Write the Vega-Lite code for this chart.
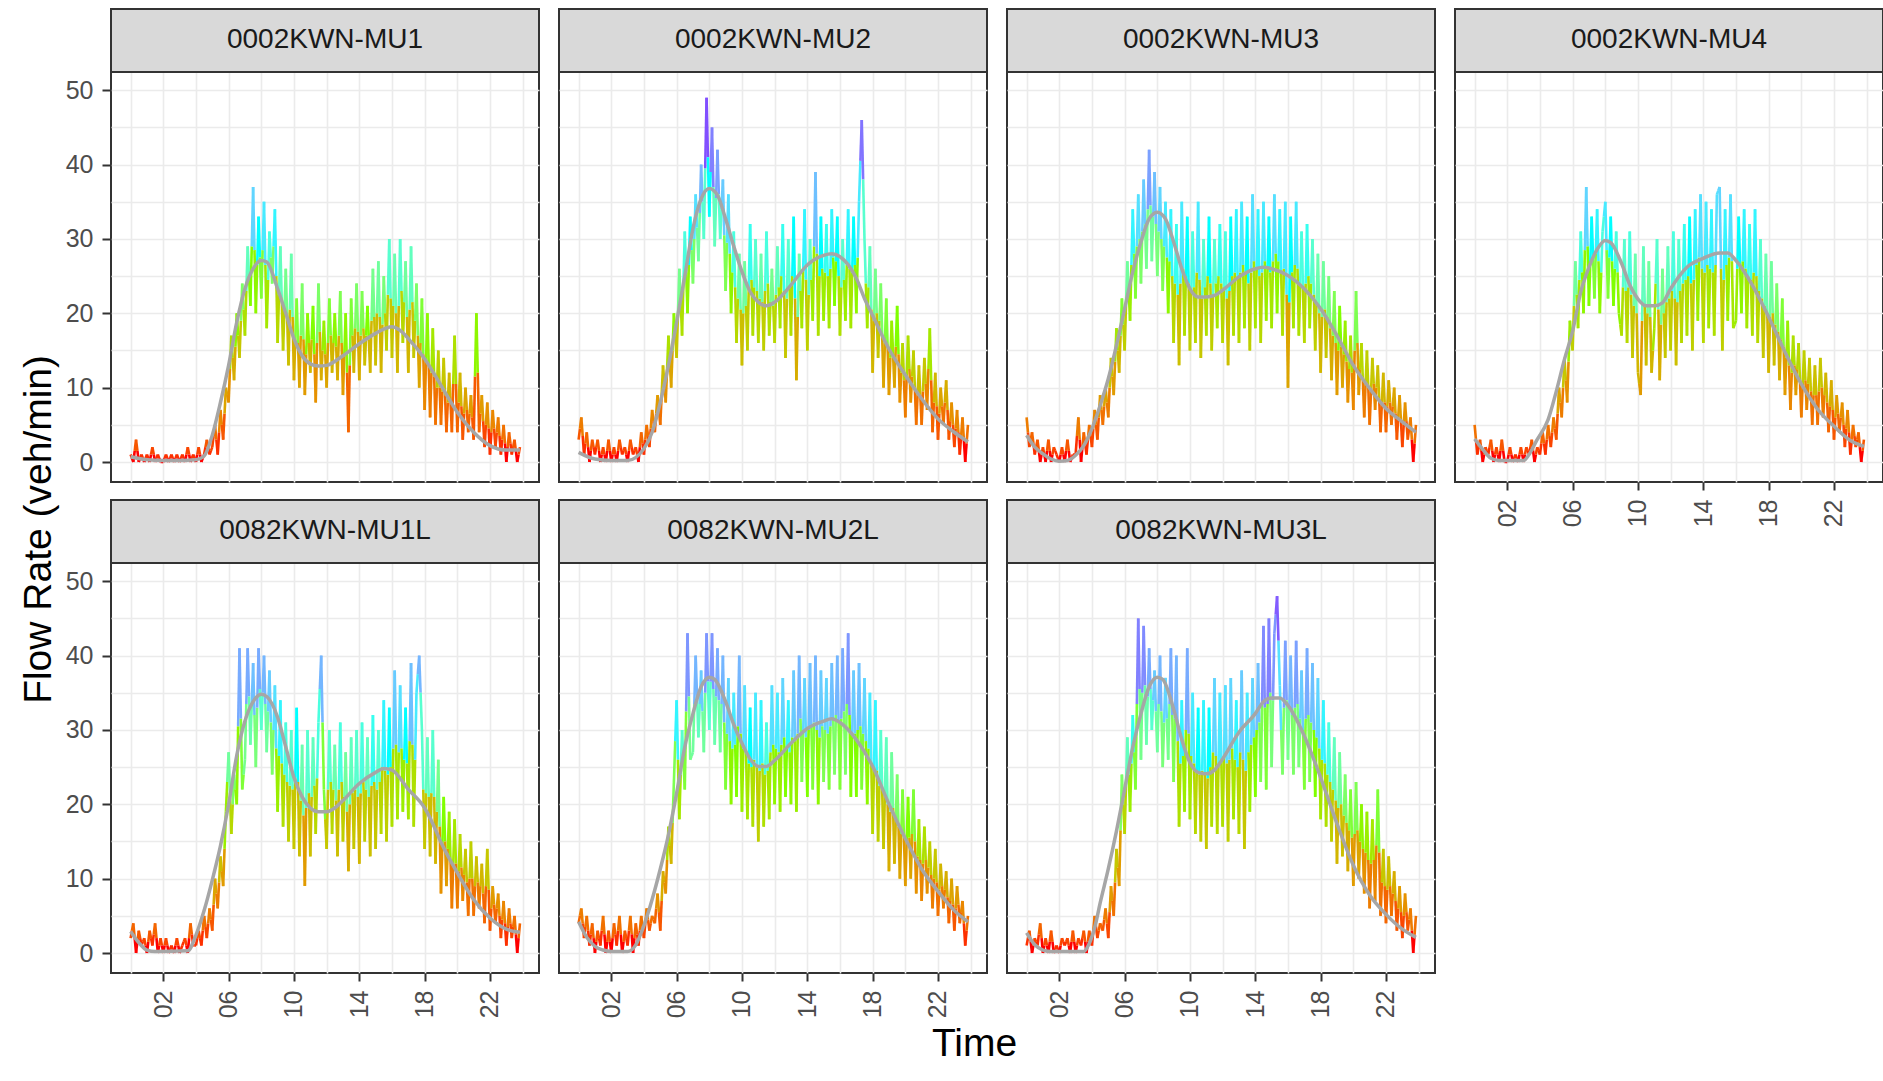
{
"$schema":"https://vega.github.io/schema/vega-lite/v6.json",
"background":"white",
"padding":{"left":20,"top":7,"right":1,"bottom":5},
"title":{"text":"Flow Rate (veh/min)","orient":"left","anchor":"middle","fontSize":39,"font":"Liberation Sans","fontWeight":"normal","color":"#000000","offset":5,"dx":6},
"datasets":{
"n":[{"c":"A","p":"0002KWN-MU1"},{"c":"B","p":"0002KWN-MU2"},{"c":"C","p":"0002KWN-MU3"},{"c":"D","p":"0002KWN-MU4"},{"c":"E","p":"0082KWN-MU1L"},{"c":"F","p":"0082KWN-MU2L"},{"c":"G","p":"0082KWN-MU3L"}],
"d":[
{"c":"A","m":0,"v":1},{"c":"A","m":10,"v":0},{"c":"A","m":20,"v":3},{"c":"A","m":30,"v":0},{"c":"A","m":40,"v":1},{"c":"A","m":50,"v":0},
{"c":"A","m":60,"v":1},{"c":"A","m":70,"v":0},{"c":"A","m":80,"v":2},{"c":"A","m":90,"v":0},{"c":"A","m":100,"v":1},{"c":"A","m":110,"v":0},
{"c":"A","m":120,"v":0},{"c":"A","m":130,"v":1},{"c":"A","m":140,"v":0},{"c":"A","m":150,"v":1},{"c":"A","m":160,"v":0},{"c":"A","m":170,"v":1},
{"c":"A","m":180,"v":0},{"c":"A","m":190,"v":1},{"c":"A","m":200,"v":0},{"c":"A","m":210,"v":2},{"c":"A","m":220,"v":0},{"c":"A","m":230,"v":1},
{"c":"A","m":240,"v":0},{"c":"A","m":250,"v":2},{"c":"A","m":260,"v":0},{"c":"A","m":270,"v":1},{"c":"A","m":280,"v":3},{"c":"A","m":290,"v":1},
{"c":"A","m":300,"v":2},{"c":"A","m":310,"v":5},{"c":"A","m":320,"v":1},{"c":"A","m":330,"v":7},{"c":"A","m":340,"v":3},{"c":"A","m":350,"v":10},
{"c":"A","m":360,"v":8},{"c":"A","m":370,"v":17},{"c":"A","m":380,"v":11},{"c":"A","m":390,"v":20},{"c":"A","m":400,"v":14},{"c":"A","m":410,"v":24},
{"c":"A","m":420,"v":17},{"c":"A","m":430,"v":29},{"c":"A","m":440,"v":21},{"c":"A","m":450,"v":37},{"c":"A","m":460,"v":20},{"c":"A","m":470,"v":33},
{"c":"A","m":480,"v":22},{"c":"A","m":490,"v":35},{"c":"A","m":500,"v":18},{"c":"A","m":510,"v":31},{"c":"A","m":520,"v":24},{"c":"A","m":530,"v":34},
{"c":"A","m":540,"v":16},{"c":"A","m":550,"v":29},{"c":"A","m":560,"v":15},{"c":"A","m":570,"v":26},{"c":"A","m":580,"v":13},{"c":"A","m":590,"v":28},
{"c":"A","m":600,"v":11},{"c":"A","m":610,"v":22},{"c":"A","m":620,"v":10},{"c":"A","m":630,"v":24},{"c":"A","m":640,"v":9},{"c":"A","m":650,"v":20},
{"c":"A","m":660,"v":12},{"c":"A","m":670,"v":21},{"c":"A","m":680,"v":8},{"c":"A","m":690,"v":24},{"c":"A","m":700,"v":11},{"c":"A","m":710,"v":19},
{"c":"A","m":720,"v":10},{"c":"A","m":730,"v":22},{"c":"A","m":740,"v":12},{"c":"A","m":750,"v":20},{"c":"A","m":760,"v":11},{"c":"A","m":770,"v":23},
{"c":"A","m":780,"v":9},{"c":"A","m":790,"v":20},{"c":"A","m":800,"v":4},{"c":"A","m":810,"v":22},{"c":"A","m":820,"v":12},{"c":"A","m":830,"v":24},
{"c":"A","m":840,"v":11},{"c":"A","m":850,"v":23},{"c":"A","m":860,"v":13},{"c":"A","m":870,"v":21},{"c":"A","m":880,"v":12},{"c":"A","m":890,"v":26},
{"c":"A","m":900,"v":13},{"c":"A","m":910,"v":27},{"c":"A","m":920,"v":12},{"c":"A","m":930,"v":25},{"c":"A","m":940,"v":15},{"c":"A","m":950,"v":30},
{"c":"A","m":960,"v":14},{"c":"A","m":970,"v":28},{"c":"A","m":980,"v":12},{"c":"A","m":990,"v":30},{"c":"A","m":1000,"v":16},{"c":"A","m":1010,"v":27},
{"c":"A","m":1020,"v":12},{"c":"A","m":1030,"v":29},{"c":"A","m":1040,"v":14},{"c":"A","m":1050,"v":24},{"c":"A","m":1060,"v":10},{"c":"A","m":1070,"v":22},
{"c":"A","m":1080,"v":7},{"c":"A","m":1090,"v":20},{"c":"A","m":1100,"v":6},{"c":"A","m":1110,"v":18},{"c":"A","m":1120,"v":5},{"c":"A","m":1130,"v":15},
{"c":"A","m":1140,"v":5},{"c":"A","m":1150,"v":14},{"c":"A","m":1160,"v":4},{"c":"A","m":1170,"v":12},{"c":"A","m":1180,"v":4},{"c":"A","m":1190,"v":17},
{"c":"A","m":1200,"v":4},{"c":"A","m":1210,"v":12},{"c":"A","m":1220,"v":3},{"c":"A","m":1230,"v":10},{"c":"A","m":1240,"v":4},{"c":"A","m":1250,"v":9},
{"c":"A","m":1260,"v":3},{"c":"A","m":1270,"v":20},{"c":"A","m":1280,"v":4},{"c":"A","m":1290,"v":9},{"c":"A","m":1300,"v":2},{"c":"A","m":1310,"v":8},
{"c":"A","m":1320,"v":1},{"c":"A","m":1330,"v":7},{"c":"A","m":1340,"v":2},{"c":"A","m":1350,"v":6},{"c":"A","m":1360,"v":1},{"c":"A","m":1370,"v":5},
{"c":"A","m":1380,"v":0},{"c":"A","m":1390,"v":4},{"c":"A","m":1400,"v":1},{"c":"A","m":1410,"v":3},{"c":"A","m":1420,"v":0},{"c":"A","m":1430,"v":2},
{"c":"B","m":0,"v":3},{"c":"B","m":10,"v":6},{"c":"B","m":20,"v":1},{"c":"B","m":30,"v":4},{"c":"B","m":40,"v":0},{"c":"B","m":50,"v":3},
{"c":"B","m":60,"v":1},{"c":"B","m":70,"v":3},{"c":"B","m":80,"v":0},{"c":"B","m":90,"v":2},{"c":"B","m":100,"v":0},{"c":"B","m":110,"v":3},
{"c":"B","m":120,"v":0},{"c":"B","m":130,"v":2},{"c":"B","m":140,"v":0},{"c":"B","m":150,"v":3},{"c":"B","m":160,"v":1},{"c":"B","m":170,"v":2},
{"c":"B","m":180,"v":0},{"c":"B","m":190,"v":3},{"c":"B","m":200,"v":1},{"c":"B","m":210,"v":2},{"c":"B","m":220,"v":0},{"c":"B","m":230,"v":4},
{"c":"B","m":240,"v":1},{"c":"B","m":250,"v":5},{"c":"B","m":260,"v":2},{"c":"B","m":270,"v":7},{"c":"B","m":280,"v":4},{"c":"B","m":290,"v":9},
{"c":"B","m":300,"v":5},{"c":"B","m":310,"v":13},{"c":"B","m":320,"v":8},{"c":"B","m":330,"v":17},{"c":"B","m":340,"v":10},{"c":"B","m":350,"v":20},
{"c":"B","m":360,"v":14},{"c":"B","m":370,"v":26},{"c":"B","m":380,"v":17},{"c":"B","m":390,"v":31},{"c":"B","m":400,"v":20},{"c":"B","m":410,"v":33},
{"c":"B","m":420,"v":24},{"c":"B","m":430,"v":36},{"c":"B","m":440,"v":27},{"c":"B","m":450,"v":40},{"c":"B","m":460,"v":30},{"c":"B","m":470,"v":49},
{"c":"B","m":480,"v":33},{"c":"B","m":490,"v":45},{"c":"B","m":500,"v":29},{"c":"B","m":510,"v":42},{"c":"B","m":520,"v":30},{"c":"B","m":530,"v":38},
{"c":"B","m":540,"v":23},{"c":"B","m":550,"v":36},{"c":"B","m":560,"v":20},{"c":"B","m":570,"v":31},{"c":"B","m":580,"v":16},{"c":"B","m":590,"v":28},
{"c":"B","m":600,"v":13},{"c":"B","m":610,"v":27},{"c":"B","m":620,"v":15},{"c":"B","m":630,"v":32},{"c":"B","m":640,"v":17},{"c":"B","m":650,"v":30},
{"c":"B","m":660,"v":16},{"c":"B","m":670,"v":28},{"c":"B","m":680,"v":15},{"c":"B","m":690,"v":31},{"c":"B","m":700,"v":17},{"c":"B","m":710,"v":26},
{"c":"B","m":720,"v":16},{"c":"B","m":730,"v":29},{"c":"B","m":740,"v":18},{"c":"B","m":750,"v":32},{"c":"B","m":760,"v":14},{"c":"B","m":770,"v":30},
{"c":"B","m":780,"v":17},{"c":"B","m":790,"v":33},{"c":"B","m":800,"v":11},{"c":"B","m":810,"v":28},{"c":"B","m":820,"v":18},{"c":"B","m":830,"v":34},
{"c":"B","m":840,"v":15},{"c":"B","m":850,"v":30},{"c":"B","m":860,"v":19},{"c":"B","m":870,"v":39},{"c":"B","m":880,"v":17},{"c":"B","m":890,"v":33},
{"c":"B","m":900,"v":19},{"c":"B","m":910,"v":32},{"c":"B","m":920,"v":18},{"c":"B","m":930,"v":34},{"c":"B","m":940,"v":21},{"c":"B","m":950,"v":33},
{"c":"B","m":960,"v":17},{"c":"B","m":970,"v":30},{"c":"B","m":980,"v":19},{"c":"B","m":990,"v":34},{"c":"B","m":1000,"v":18},{"c":"B","m":1010,"v":33},
{"c":"B","m":1020,"v":20},{"c":"B","m":1030,"v":35},{"c":"B","m":1040,"v":46},{"c":"B","m":1050,"v":30},{"c":"B","m":1060,"v":18},{"c":"B","m":1070,"v":29},
{"c":"B","m":1080,"v":12},{"c":"B","m":1090,"v":26},{"c":"B","m":1100,"v":14},{"c":"B","m":1110,"v":24},{"c":"B","m":1120,"v":10},{"c":"B","m":1130,"v":22},
{"c":"B","m":1140,"v":9},{"c":"B","m":1150,"v":19},{"c":"B","m":1160,"v":10},{"c":"B","m":1170,"v":21},{"c":"B","m":1180,"v":8},{"c":"B","m":1190,"v":16},
{"c":"B","m":1200,"v":6},{"c":"B","m":1210,"v":17},{"c":"B","m":1220,"v":8},{"c":"B","m":1230,"v":15},{"c":"B","m":1240,"v":5},{"c":"B","m":1250,"v":13},
{"c":"B","m":1260,"v":5},{"c":"B","m":1270,"v":14},{"c":"B","m":1280,"v":7},{"c":"B","m":1290,"v":18},{"c":"B","m":1300,"v":4},{"c":"B","m":1310,"v":12},
{"c":"B","m":1320,"v":3},{"c":"B","m":1330,"v":10},{"c":"B","m":1340,"v":5},{"c":"B","m":1350,"v":11},{"c":"B","m":1360,"v":3},{"c":"B","m":1370,"v":8},
{"c":"B","m":1380,"v":2},{"c":"B","m":1390,"v":7},{"c":"B","m":1400,"v":1},{"c":"B","m":1410,"v":6},{"c":"B","m":1420,"v":0},{"c":"B","m":1430,"v":5},
{"c":"C","m":0,"v":6},{"c":"C","m":10,"v":2},{"c":"C","m":20,"v":4},{"c":"C","m":30,"v":1},{"c":"C","m":40,"v":3},{"c":"C","m":50,"v":0},
{"c":"C","m":60,"v":2},{"c":"C","m":70,"v":0},{"c":"C","m":80,"v":3},{"c":"C","m":90,"v":0},{"c":"C","m":100,"v":2},{"c":"C","m":110,"v":1},
{"c":"C","m":120,"v":0},{"c":"C","m":130,"v":2},{"c":"C","m":140,"v":0},{"c":"C","m":150,"v":3},{"c":"C","m":160,"v":0},{"c":"C","m":170,"v":1},
{"c":"C","m":180,"v":1},{"c":"C","m":190,"v":6},{"c":"C","m":200,"v":0},{"c":"C","m":210,"v":4},{"c":"C","m":220,"v":1},{"c":"C","m":230,"v":5},
{"c":"C","m":240,"v":2},{"c":"C","m":250,"v":7},{"c":"C","m":260,"v":3},{"c":"C","m":270,"v":9},{"c":"C","m":280,"v":5},{"c":"C","m":290,"v":10},
{"c":"C","m":300,"v":6},{"c":"C","m":310,"v":14},{"c":"C","m":320,"v":9},{"c":"C","m":330,"v":18},{"c":"C","m":340,"v":12},{"c":"C","m":350,"v":22},
{"c":"C","m":360,"v":15},{"c":"C","m":370,"v":27},{"c":"C","m":380,"v":19},{"c":"C","m":390,"v":34},{"c":"C","m":400,"v":22},{"c":"C","m":410,"v":36},
{"c":"C","m":420,"v":24},{"c":"C","m":430,"v":38},{"c":"C","m":440,"v":26},{"c":"C","m":450,"v":42},{"c":"C","m":460,"v":27},{"c":"C","m":470,"v":39},
{"c":"C","m":480,"v":25},{"c":"C","m":490,"v":37},{"c":"C","m":500,"v":23},{"c":"C","m":510,"v":35},{"c":"C","m":520,"v":20},{"c":"C","m":530,"v":34},
{"c":"C","m":540,"v":16},{"c":"C","m":550,"v":32},{"c":"C","m":560,"v":13},{"c":"C","m":570,"v":35},{"c":"C","m":580,"v":17},{"c":"C","m":590,"v":33},
{"c":"C","m":600,"v":15},{"c":"C","m":610,"v":31},{"c":"C","m":620,"v":16},{"c":"C","m":630,"v":35},{"c":"C","m":640,"v":14},{"c":"C","m":650,"v":30},
{"c":"C","m":660,"v":17},{"c":"C","m":670,"v":33},{"c":"C","m":680,"v":15},{"c":"C","m":690,"v":30},{"c":"C","m":700,"v":18},{"c":"C","m":710,"v":32},
{"c":"C","m":720,"v":16},{"c":"C","m":730,"v":31},{"c":"C","m":740,"v":13},{"c":"C","m":750,"v":33},{"c":"C","m":760,"v":17},{"c":"C","m":770,"v":34},
{"c":"C","m":780,"v":16},{"c":"C","m":790,"v":35},{"c":"C","m":800,"v":18},{"c":"C","m":810,"v":33},{"c":"C","m":820,"v":15},{"c":"C","m":830,"v":36},
{"c":"C","m":840,"v":18},{"c":"C","m":850,"v":34},{"c":"C","m":860,"v":16},{"c":"C","m":870,"v":35},{"c":"C","m":880,"v":19},{"c":"C","m":890,"v":33},
{"c":"C","m":900,"v":18},{"c":"C","m":910,"v":36},{"c":"C","m":920,"v":20},{"c":"C","m":930,"v":34},{"c":"C","m":940,"v":17},{"c":"C","m":950,"v":35},
{"c":"C","m":960,"v":10},{"c":"C","m":970,"v":33},{"c":"C","m":980,"v":18},{"c":"C","m":990,"v":35},{"c":"C","m":1000,"v":17},{"c":"C","m":1010,"v":31},
{"c":"C","m":1020,"v":16},{"c":"C","m":1030,"v":32},{"c":"C","m":1040,"v":18},{"c":"C","m":1050,"v":30},{"c":"C","m":1060,"v":15},{"c":"C","m":1070,"v":28},
{"c":"C","m":1080,"v":12},{"c":"C","m":1090,"v":27},{"c":"C","m":1100,"v":14},{"c":"C","m":1110,"v":25},{"c":"C","m":1120,"v":11},{"c":"C","m":1130,"v":23},
{"c":"C","m":1140,"v":9},{"c":"C","m":1150,"v":21},{"c":"C","m":1160,"v":10},{"c":"C","m":1170,"v":19},{"c":"C","m":1180,"v":8},{"c":"C","m":1190,"v":17},
{"c":"C","m":1200,"v":7},{"c":"C","m":1210,"v":23},{"c":"C","m":1220,"v":9},{"c":"C","m":1230,"v":16},{"c":"C","m":1240,"v":6},{"c":"C","m":1250,"v":15},
{"c":"C","m":1260,"v":5},{"c":"C","m":1270,"v":14},{"c":"C","m":1280,"v":7},{"c":"C","m":1290,"v":13},{"c":"C","m":1300,"v":4},{"c":"C","m":1310,"v":12},
{"c":"C","m":1320,"v":4},{"c":"C","m":1330,"v":11},{"c":"C","m":1340,"v":5},{"c":"C","m":1350,"v":10},{"c":"C","m":1360,"v":3},{"c":"C","m":1370,"v":9},
{"c":"C","m":1380,"v":2},{"c":"C","m":1390,"v":8},{"c":"C","m":1400,"v":3},{"c":"C","m":1410,"v":6},{"c":"C","m":1420,"v":0},{"c":"C","m":1430,"v":5},
{"c":"D","m":0,"v":5},{"c":"D","m":10,"v":1},{"c":"D","m":20,"v":3},{"c":"D","m":30,"v":0},{"c":"D","m":40,"v":2},{"c":"D","m":50,"v":1},
{"c":"D","m":60,"v":3},{"c":"D","m":70,"v":0},{"c":"D","m":80,"v":2},{"c":"D","m":90,"v":0},{"c":"D","m":100,"v":3},{"c":"D","m":110,"v":0},
{"c":"D","m":120,"v":0},{"c":"D","m":130,"v":2},{"c":"D","m":140,"v":0},{"c":"D","m":150,"v":1},{"c":"D","m":160,"v":0},{"c":"D","m":170,"v":2},
{"c":"D","m":180,"v":0},{"c":"D","m":190,"v":2},{"c":"D","m":200,"v":1},{"c":"D","m":210,"v":3},{"c":"D","m":220,"v":0},{"c":"D","m":230,"v":2},
{"c":"D","m":240,"v":1},{"c":"D","m":250,"v":4},{"c":"D","m":260,"v":1},{"c":"D","m":270,"v":5},{"c":"D","m":280,"v":2},{"c":"D","m":290,"v":6},
{"c":"D","m":300,"v":3},{"c":"D","m":310,"v":10},{"c":"D","m":320,"v":6},{"c":"D","m":330,"v":14},{"c":"D","m":340,"v":8},{"c":"D","m":350,"v":19},
{"c":"D","m":360,"v":15},{"c":"D","m":370,"v":27},{"c":"D","m":380,"v":18},{"c":"D","m":390,"v":31},{"c":"D","m":400,"v":20},{"c":"D","m":410,"v":37},
{"c":"D","m":420,"v":21},{"c":"D","m":430,"v":33},{"c":"D","m":440,"v":22},{"c":"D","m":450,"v":34},{"c":"D","m":460,"v":20},{"c":"D","m":470,"v":31},
{"c":"D","m":480,"v":35},{"c":"D","m":490,"v":22},{"c":"D","m":500,"v":33},{"c":"D","m":510,"v":21},{"c":"D","m":520,"v":31},{"c":"D","m":530,"v":20},
{"c":"D","m":540,"v":17},{"c":"D","m":550,"v":30},{"c":"D","m":560,"v":16},{"c":"D","m":570,"v":31},{"c":"D","m":580,"v":14},{"c":"D","m":590,"v":28},
{"c":"D","m":600,"v":12},{"c":"D","m":610,"v":9},{"c":"D","m":620,"v":29},{"c":"D","m":630,"v":13},{"c":"D","m":640,"v":27},{"c":"D","m":650,"v":12},
{"c":"D","m":660,"v":18},{"c":"D","m":670,"v":30},{"c":"D","m":680,"v":11},{"c":"D","m":690,"v":26},{"c":"D","m":700,"v":14},{"c":"D","m":710,"v":29},
{"c":"D","m":720,"v":15},{"c":"D","m":730,"v":31},{"c":"D","m":740,"v":13},{"c":"D","m":750,"v":30},{"c":"D","m":760,"v":16},{"c":"D","m":770,"v":32},
{"c":"D","m":780,"v":17},{"c":"D","m":790,"v":33},{"c":"D","m":800,"v":15},{"c":"D","m":810,"v":34},{"c":"D","m":820,"v":19},{"c":"D","m":830,"v":36},
{"c":"D","m":840,"v":16},{"c":"D","m":850,"v":35},{"c":"D","m":860,"v":18},{"c":"D","m":870,"v":34},{"c":"D","m":880,"v":17},{"c":"D","m":890,"v":36},
{"c":"D","m":900,"v":37},{"c":"D","m":910,"v":15},{"c":"D","m":920,"v":34},{"c":"D","m":930,"v":19},{"c":"D","m":940,"v":36},{"c":"D","m":950,"v":18},
{"c":"D","m":960,"v":19},{"c":"D","m":970,"v":33},{"c":"D","m":980,"v":20},{"c":"D","m":990,"v":34},{"c":"D","m":1000,"v":18},{"c":"D","m":1010,"v":32},
{"c":"D","m":1020,"v":17},{"c":"D","m":1030,"v":34},{"c":"D","m":1040,"v":16},{"c":"D","m":1050,"v":30},{"c":"D","m":1060,"v":14},{"c":"D","m":1070,"v":28},
{"c":"D","m":1080,"v":12},{"c":"D","m":1090,"v":27},{"c":"D","m":1100,"v":13},{"c":"D","m":1110,"v":24},{"c":"D","m":1120,"v":11},{"c":"D","m":1130,"v":22},
{"c":"D","m":1140,"v":9},{"c":"D","m":1150,"v":19},{"c":"D","m":1160,"v":7},{"c":"D","m":1170,"v":17},{"c":"D","m":1180,"v":9},{"c":"D","m":1190,"v":16},
{"c":"D","m":1200,"v":6},{"c":"D","m":1210,"v":15},{"c":"D","m":1220,"v":7},{"c":"D","m":1230,"v":14},{"c":"D","m":1240,"v":5},{"c":"D","m":1250,"v":13},
{"c":"D","m":1260,"v":5},{"c":"D","m":1270,"v":14},{"c":"D","m":1280,"v":6},{"c":"D","m":1290,"v":12},{"c":"D","m":1300,"v":4},{"c":"D","m":1310,"v":11},
{"c":"D","m":1320,"v":3},{"c":"D","m":1330,"v":9},{"c":"D","m":1340,"v":4},{"c":"D","m":1350,"v":8},{"c":"D","m":1360,"v":2},{"c":"D","m":1370,"v":7},
{"c":"D","m":1380,"v":1},{"c":"D","m":1390,"v":5},{"c":"D","m":1400,"v":2},{"c":"D","m":1410,"v":4},{"c":"D","m":1420,"v":0},{"c":"D","m":1430,"v":3},
{"c":"E","m":0,"v":2},{"c":"E","m":10,"v":4},{"c":"E","m":20,"v":0},{"c":"E","m":30,"v":3},{"c":"E","m":40,"v":1},{"c":"E","m":50,"v":2},
{"c":"E","m":60,"v":0},{"c":"E","m":70,"v":3},{"c":"E","m":80,"v":1},{"c":"E","m":90,"v":4},{"c":"E","m":100,"v":0},{"c":"E","m":110,"v":2},
{"c":"E","m":120,"v":0},{"c":"E","m":130,"v":2},{"c":"E","m":140,"v":0},{"c":"E","m":150,"v":1},{"c":"E","m":160,"v":0},{"c":"E","m":170,"v":2},
{"c":"E","m":180,"v":0},{"c":"E","m":190,"v":1},{"c":"E","m":200,"v":2},{"c":"E","m":210,"v":0},{"c":"E","m":220,"v":4},{"c":"E","m":230,"v":1},
{"c":"E","m":240,"v":1},{"c":"E","m":250,"v":3},{"c":"E","m":260,"v":1},{"c":"E","m":270,"v":5},{"c":"E","m":280,"v":2},{"c":"E","m":290,"v":6},
{"c":"E","m":300,"v":3},{"c":"E","m":310,"v":10},{"c":"E","m":320,"v":6},{"c":"E","m":330,"v":13},{"c":"E","m":340,"v":9},{"c":"E","m":350,"v":19},
{"c":"E","m":360,"v":27},{"c":"E","m":370,"v":16},{"c":"E","m":380,"v":24},{"c":"E","m":390,"v":20},{"c":"E","m":400,"v":41},{"c":"E","m":410,"v":22},
{"c":"E","m":420,"v":26},{"c":"E","m":430,"v":41},{"c":"E","m":440,"v":28},{"c":"E","m":450,"v":39},{"c":"E","m":460,"v":25},{"c":"E","m":470,"v":41},
{"c":"E","m":480,"v":30},{"c":"E","m":490,"v":40},{"c":"E","m":500,"v":27},{"c":"E","m":510,"v":38},{"c":"E","m":520,"v":24},{"c":"E","m":530,"v":36},
{"c":"E","m":540,"v":19},{"c":"E","m":550,"v":34},{"c":"E","m":560,"v":17},{"c":"E","m":570,"v":31},{"c":"E","m":580,"v":15},{"c":"E","m":590,"v":30},
{"c":"E","m":600,"v":14},{"c":"E","m":610,"v":33},{"c":"E","m":620,"v":13},{"c":"E","m":630,"v":28},{"c":"E","m":640,"v":9},{"c":"E","m":650,"v":30},
{"c":"E","m":660,"v":13},{"c":"E","m":670,"v":29},{"c":"E","m":680,"v":16},{"c":"E","m":690,"v":31},{"c":"E","m":700,"v":40},{"c":"E","m":710,"v":22},
{"c":"E","m":720,"v":14},{"c":"E","m":730,"v":30},{"c":"E","m":740,"v":16},{"c":"E","m":750,"v":28},{"c":"E","m":760,"v":13},{"c":"E","m":770,"v":31},
{"c":"E","m":780,"v":15},{"c":"E","m":790,"v":27},{"c":"E","m":800,"v":11},{"c":"E","m":810,"v":29},{"c":"E","m":820,"v":14},{"c":"E","m":830,"v":30},
{"c":"E","m":840,"v":12},{"c":"E","m":850,"v":31},{"c":"E","m":860,"v":15},{"c":"E","m":870,"v":29},{"c":"E","m":880,"v":13},{"c":"E","m":890,"v":32},
{"c":"E","m":900,"v":14},{"c":"E","m":910,"v":30},{"c":"E","m":920,"v":16},{"c":"E","m":930,"v":34},{"c":"E","m":940,"v":15},{"c":"E","m":950,"v":33},
{"c":"E","m":960,"v":17},{"c":"E","m":970,"v":38},{"c":"E","m":980,"v":18},{"c":"E","m":990,"v":36},{"c":"E","m":1000,"v":19},{"c":"E","m":1010,"v":33},
{"c":"E","m":1020,"v":18},{"c":"E","m":1030,"v":39},{"c":"E","m":1040,"v":17},{"c":"E","m":1050,"v":35},{"c":"E","m":1060,"v":40},{"c":"E","m":1070,"v":30},
{"c":"E","m":1080,"v":14},{"c":"E","m":1090,"v":29},{"c":"E","m":1100,"v":13},{"c":"E","m":1110,"v":30},{"c":"E","m":1120,"v":12},{"c":"E","m":1130,"v":26},
{"c":"E","m":1140,"v":8},{"c":"E","m":1150,"v":21},{"c":"E","m":1160,"v":9},{"c":"E","m":1170,"v":19},{"c":"E","m":1180,"v":6},{"c":"E","m":1190,"v":18},
{"c":"E","m":1200,"v":6},{"c":"E","m":1210,"v":16},{"c":"E","m":1220,"v":7},{"c":"E","m":1230,"v":14},{"c":"E","m":1240,"v":5},{"c":"E","m":1250,"v":15},
{"c":"E","m":1260,"v":5},{"c":"E","m":1270,"v":13},{"c":"E","m":1280,"v":6},{"c":"E","m":1290,"v":12},{"c":"E","m":1300,"v":4},{"c":"E","m":1310,"v":14},
{"c":"E","m":1320,"v":3},{"c":"E","m":1330,"v":9},{"c":"E","m":1340,"v":4},{"c":"E","m":1350,"v":8},{"c":"E","m":1360,"v":2},{"c":"E","m":1370,"v":7},
{"c":"E","m":1380,"v":1},{"c":"E","m":1390,"v":6},{"c":"E","m":1400,"v":2},{"c":"E","m":1410,"v":5},{"c":"E","m":1420,"v":0},{"c":"E","m":1430,"v":4},
{"c":"F","m":0,"v":4},{"c":"F","m":10,"v":6},{"c":"F","m":20,"v":2},{"c":"F","m":30,"v":5},{"c":"F","m":40,"v":1},{"c":"F","m":50,"v":4},
{"c":"F","m":60,"v":0},{"c":"F","m":70,"v":3},{"c":"F","m":80,"v":1},{"c":"F","m":90,"v":5},{"c":"F","m":100,"v":0},{"c":"F","m":110,"v":3},
{"c":"F","m":120,"v":0},{"c":"F","m":130,"v":4},{"c":"F","m":140,"v":1},{"c":"F","m":150,"v":5},{"c":"F","m":160,"v":0},{"c":"F","m":170,"v":3},
{"c":"F","m":180,"v":1},{"c":"F","m":190,"v":5},{"c":"F","m":200,"v":0},{"c":"F","m":210,"v":4},{"c":"F","m":220,"v":1},{"c":"F","m":230,"v":5},
{"c":"F","m":240,"v":2},{"c":"F","m":250,"v":6},{"c":"F","m":260,"v":3},{"c":"F","m":270,"v":5},{"c":"F","m":280,"v":4},{"c":"F","m":290,"v":8},
{"c":"F","m":300,"v":3},{"c":"F","m":310,"v":11},{"c":"F","m":320,"v":8},{"c":"F","m":330,"v":17},{"c":"F","m":340,"v":12},{"c":"F","m":350,"v":23},
{"c":"F","m":360,"v":34},{"c":"F","m":370,"v":18},{"c":"F","m":380,"v":30},{"c":"F","m":390,"v":22},{"c":"F","m":400,"v":43},{"c":"F","m":410,"v":26},
{"c":"F","m":420,"v":27},{"c":"F","m":430,"v":40},{"c":"F","m":440,"v":29},{"c":"F","m":450,"v":38},{"c":"F","m":460,"v":27},{"c":"F","m":470,"v":43},
{"c":"F","m":480,"v":30},{"c":"F","m":490,"v":43},{"c":"F","m":500,"v":28},{"c":"F","m":510,"v":41},{"c":"F","m":520,"v":27},{"c":"F","m":530,"v":40},
{"c":"F","m":540,"v":22},{"c":"F","m":550,"v":37},{"c":"F","m":560,"v":20},{"c":"F","m":570,"v":35},{"c":"F","m":580,"v":21},{"c":"F","m":590,"v":40},
{"c":"F","m":600,"v":19},{"c":"F","m":610,"v":36},{"c":"F","m":620,"v":18},{"c":"F","m":630,"v":33},{"c":"F","m":640,"v":17},{"c":"F","m":650,"v":35},
{"c":"F","m":660,"v":15},{"c":"F","m":670,"v":34},{"c":"F","m":680,"v":17},{"c":"F","m":690,"v":31},{"c":"F","m":700,"v":18},{"c":"F","m":710,"v":36},
{"c":"F","m":720,"v":20},{"c":"F","m":730,"v":35},{"c":"F","m":740,"v":19},{"c":"F","m":750,"v":37},{"c":"F","m":760,"v":21},{"c":"F","m":770,"v":34},
{"c":"F","m":780,"v":20},{"c":"F","m":790,"v":38},{"c":"F","m":800,"v":19},{"c":"F","m":810,"v":40},{"c":"F","m":820,"v":23},{"c":"F","m":830,"v":37},
{"c":"F","m":840,"v":21},{"c":"F","m":850,"v":39},{"c":"F","m":860,"v":22},{"c":"F","m":870,"v":40},{"c":"F","m":880,"v":20},{"c":"F","m":890,"v":38},
{"c":"F","m":900,"v":23},{"c":"F","m":910,"v":37},{"c":"F","m":920,"v":22},{"c":"F","m":930,"v":39},{"c":"F","m":940,"v":24},{"c":"F","m":950,"v":40},
{"c":"F","m":960,"v":22},{"c":"F","m":970,"v":41},{"c":"F","m":980,"v":24},{"c":"F","m":990,"v":43},{"c":"F","m":1000,"v":21},{"c":"F","m":1010,"v":38},
{"c":"F","m":1020,"v":21},{"c":"F","m":1030,"v":39},{"c":"F","m":1040,"v":22},{"c":"F","m":1050,"v":37},{"c":"F","m":1060,"v":20},{"c":"F","m":1070,"v":35},
{"c":"F","m":1080,"v":16},{"c":"F","m":1090,"v":34},{"c":"F","m":1100,"v":15},{"c":"F","m":1110,"v":30},{"c":"F","m":1120,"v":14},{"c":"F","m":1130,"v":29},
{"c":"F","m":1140,"v":11},{"c":"F","m":1150,"v":27},{"c":"F","m":1160,"v":12},{"c":"F","m":1170,"v":24},{"c":"F","m":1180,"v":10},{"c":"F","m":1190,"v":22},
{"c":"F","m":1200,"v":9},{"c":"F","m":1210,"v":21},{"c":"F","m":1220,"v":10},{"c":"F","m":1230,"v":22},{"c":"F","m":1240,"v":8},{"c":"F","m":1250,"v":18},
{"c":"F","m":1260,"v":7},{"c":"F","m":1270,"v":17},{"c":"F","m":1280,"v":8},{"c":"F","m":1290,"v":15},{"c":"F","m":1300,"v":6},{"c":"F","m":1310,"v":14},
{"c":"F","m":1320,"v":5},{"c":"F","m":1330,"v":12},{"c":"F","m":1340,"v":6},{"c":"F","m":1350,"v":11},{"c":"F","m":1360,"v":4},{"c":"F","m":1370,"v":10},
{"c":"F","m":1380,"v":3},{"c":"F","m":1390,"v":9},{"c":"F","m":1400,"v":4},{"c":"F","m":1410,"v":7},{"c":"F","m":1420,"v":1},{"c":"F","m":1430,"v":5},
{"c":"G","m":0,"v":1},{"c":"G","m":10,"v":3},{"c":"G","m":20,"v":0},{"c":"G","m":30,"v":2},{"c":"G","m":40,"v":1},{"c":"G","m":50,"v":4},
{"c":"G","m":60,"v":0},{"c":"G","m":70,"v":2},{"c":"G","m":80,"v":0},{"c":"G","m":90,"v":3},{"c":"G","m":100,"v":0},{"c":"G","m":110,"v":1},
{"c":"G","m":120,"v":0},{"c":"G","m":130,"v":2},{"c":"G","m":140,"v":1},{"c":"G","m":150,"v":2},{"c":"G","m":160,"v":0},{"c":"G","m":170,"v":3},
{"c":"G","m":180,"v":0},{"c":"G","m":190,"v":2},{"c":"G","m":200,"v":1},{"c":"G","m":210,"v":3},{"c":"G","m":220,"v":0},{"c":"G","m":230,"v":3},
{"c":"G","m":240,"v":1},{"c":"G","m":250,"v":5},{"c":"G","m":260,"v":2},{"c":"G","m":270,"v":4},{"c":"G","m":280,"v":3},{"c":"G","m":290,"v":6},
{"c":"G","m":300,"v":2},{"c":"G","m":310,"v":9},{"c":"G","m":320,"v":5},{"c":"G","m":330,"v":14},{"c":"G","m":340,"v":9},{"c":"G","m":350,"v":24},
{"c":"G","m":360,"v":16},{"c":"G","m":370,"v":29},{"c":"G","m":380,"v":19},{"c":"G","m":390,"v":32},{"c":"G","m":400,"v":22},{"c":"G","m":410,"v":45},
{"c":"G","m":420,"v":26},{"c":"G","m":430,"v":44},{"c":"G","m":440,"v":28},{"c":"G","m":450,"v":41},{"c":"G","m":460,"v":30},{"c":"G","m":470,"v":38},
{"c":"G","m":480,"v":27},{"c":"G","m":490,"v":40},{"c":"G","m":500,"v":25},{"c":"G","m":510,"v":37},{"c":"G","m":520,"v":26},{"c":"G","m":530,"v":41},
{"c":"G","m":540,"v":23},{"c":"G","m":550,"v":40},{"c":"G","m":560,"v":17},{"c":"G","m":570,"v":34},{"c":"G","m":580,"v":19},{"c":"G","m":590,"v":41},
{"c":"G","m":600,"v":18},{"c":"G","m":610,"v":35},{"c":"G","m":620,"v":16},{"c":"G","m":630,"v":33},{"c":"G","m":640,"v":15},{"c":"G","m":650,"v":34},
{"c":"G","m":660,"v":14},{"c":"G","m":670,"v":33},{"c":"G","m":680,"v":17},{"c":"G","m":690,"v":37},{"c":"G","m":700,"v":16},{"c":"G","m":710,"v":35},
{"c":"G","m":720,"v":17},{"c":"G","m":730,"v":36},{"c":"G","m":740,"v":15},{"c":"G","m":750,"v":37},{"c":"G","m":760,"v":18},{"c":"G","m":770,"v":34},
{"c":"G","m":780,"v":16},{"c":"G","m":790,"v":38},{"c":"G","m":800,"v":14},{"c":"G","m":810,"v":35},{"c":"G","m":820,"v":19},{"c":"G","m":830,"v":37},
{"c":"G","m":840,"v":21},{"c":"G","m":850,"v":39},{"c":"G","m":860,"v":23},{"c":"G","m":870,"v":44},{"c":"G","m":880,"v":22},{"c":"G","m":890,"v":45},
{"c":"G","m":900,"v":25},{"c":"G","m":910,"v":43},{"c":"G","m":920,"v":48},{"c":"G","m":930,"v":36},{"c":"G","m":940,"v":24},{"c":"G","m":950,"v":42},
{"c":"G","m":960,"v":26},{"c":"G","m":970,"v":40},{"c":"G","m":980,"v":24},{"c":"G","m":990,"v":42},{"c":"G","m":1000,"v":25},{"c":"G","m":1010,"v":38},
{"c":"G","m":1020,"v":22},{"c":"G","m":1030,"v":41},{"c":"G","m":1040,"v":23},{"c":"G","m":1050,"v":39},{"c":"G","m":1060,"v":21},{"c":"G","m":1070,"v":37},
{"c":"G","m":1080,"v":18},{"c":"G","m":1090,"v":34},{"c":"G","m":1100,"v":17},{"c":"G","m":1110,"v":31},{"c":"G","m":1120,"v":15},{"c":"G","m":1130,"v":29},
{"c":"G","m":1140,"v":12},{"c":"G","m":1150,"v":27},{"c":"G","m":1160,"v":13},{"c":"G","m":1170,"v":24},{"c":"G","m":1180,"v":11},{"c":"G","m":1190,"v":22},
{"c":"G","m":1200,"v":9},{"c":"G","m":1210,"v":23},{"c":"G","m":1220,"v":10},{"c":"G","m":1230,"v":20},{"c":"G","m":1240,"v":8},{"c":"G","m":1250,"v":19},
{"c":"G","m":1260,"v":6},{"c":"G","m":1270,"v":18},{"c":"G","m":1280,"v":7},{"c":"G","m":1290,"v":22},{"c":"G","m":1300,"v":5},{"c":"G","m":1310,"v":14},
{"c":"G","m":1320,"v":4},{"c":"G","m":1330,"v":13},{"c":"G","m":1340,"v":5},{"c":"G","m":1350,"v":11},{"c":"G","m":1360,"v":3},{"c":"G","m":1370,"v":9},
{"c":"G","m":1380,"v":2},{"c":"G","m":1390,"v":8},{"c":"G","m":1400,"v":3},{"c":"G","m":1410,"v":6},{"c":"G","m":1420,"v":0},{"c":"G","m":1430,"v":5},
{"c":"A","m":0,"s":0.7},{"c":"A","m":60,"s":0.3},{"c":"A","m":120,"s":0.2},{"c":"A","m":180,"s":0.2},{"c":"A","m":240,"s":0.3},{"c":"A","m":270,"s":0.8},{"c":"A","m":300,"s":3.6},{"c":"A","m":330,"s":8},{"c":"A","m":360,"s":13},{"c":"A","m":390,"s":18.8},{"c":"A","m":420,"s":23.3},{"c":"A","m":450,"s":26},{"c":"A","m":480,"s":27.1},{"c":"A","m":500,"s":26.9},{"c":"A","m":540,"s":23.3},{"c":"A","m":570,"s":20},{"c":"A","m":600,"s":16.6},{"c":"A","m":630,"s":14.3},{"c":"A","m":660,"s":13.2},{"c":"A","m":690,"s":12.9},{"c":"A","m":720,"s":13},{"c":"A","m":780,"s":14.3},{"c":"A","m":840,"s":15.9},{"c":"A","m":900,"s":17.3},{"c":"A","m":960,"s":18.2},{"c":"A","m":990,"s":17.7},{"c":"A","m":1020,"s":16.6},{"c":"A","m":1080,"s":13.9},{"c":"A","m":1140,"s":10.3},{"c":"A","m":1200,"s":6.7},{"c":"A","m":1260,"s":4},{"c":"A","m":1320,"s":2.2},{"c":"A","m":1380,"s":1.6},{"c":"A","m":1430,"s":1.6},
{"c":"B","m":0,"s":1.3},{"c":"B","m":60,"s":0.4},{"c":"B","m":120,"s":0.2},{"c":"B","m":180,"s":0.2},{"c":"B","m":240,"s":1.8},{"c":"B","m":270,"s":4},{"c":"B","m":300,"s":8},{"c":"B","m":330,"s":13},{"c":"B","m":360,"s":18.8},{"c":"B","m":390,"s":25},{"c":"B","m":420,"s":31.4},{"c":"B","m":450,"s":35.4},{"c":"B","m":480,"s":36.8},{"c":"B","m":510,"s":35.9},{"c":"B","m":540,"s":32.7},{"c":"B","m":570,"s":29},{"c":"B","m":600,"s":25.6},{"c":"B","m":630,"s":22.9},{"c":"B","m":660,"s":21.5},{"c":"B","m":690,"s":21},{"c":"B","m":720,"s":21.5},{"c":"B","m":780,"s":23.8},{"c":"B","m":840,"s":26.5},{"c":"B","m":900,"s":27.8},{"c":"B","m":930,"s":28},{"c":"B","m":960,"s":27.6},{"c":"B","m":1020,"s":24.7},{"c":"B","m":1050,"s":22},{"c":"B","m":1080,"s":19.7},{"c":"B","m":1140,"s":15.2},{"c":"B","m":1200,"s":11.7},{"c":"B","m":1260,"s":8.5},{"c":"B","m":1320,"s":5.8},{"c":"B","m":1380,"s":4},{"c":"B","m":1430,"s":2.7},
{"c":"C","m":0,"s":3.6},{"c":"C","m":30,"s":2},{"c":"C","m":60,"s":1.1},{"c":"C","m":90,"s":0.4},{"c":"C","m":120,"s":0.1},{"c":"C","m":150,"s":0.2},{"c":"C","m":180,"s":0.9},{"c":"C","m":210,"s":2.2},{"c":"C","m":240,"s":4.5},{"c":"C","m":270,"s":7.6},{"c":"C","m":300,"s":11.2},{"c":"C","m":330,"s":15.7},{"c":"C","m":360,"s":20.6},{"c":"C","m":390,"s":25.6},{"c":"C","m":420,"s":29.6},{"c":"C","m":450,"s":32.7},{"c":"C","m":480,"s":33.6},{"c":"C","m":510,"s":32.7},{"c":"C","m":540,"s":29.6},{"c":"C","m":570,"s":26},{"c":"C","m":600,"s":23.3},{"c":"C","m":630,"s":22.2},{"c":"C","m":660,"s":22.2},{"c":"C","m":690,"s":22.4},{"c":"C","m":720,"s":23.1},{"c":"C","m":780,"s":24.9},{"c":"C","m":840,"s":26},{"c":"C","m":870,"s":26.2},{"c":"C","m":900,"s":26},{"c":"C","m":960,"s":25.1},{"c":"C","m":1020,"s":23.3},{"c":"C","m":1080,"s":20.6},{"c":"C","m":1140,"s":17},{"c":"C","m":1200,"s":13},{"c":"C","m":1260,"s":9.9},{"c":"C","m":1320,"s":7.2},{"c":"C","m":1380,"s":5.4},{"c":"C","m":1430,"s":4},
{"c":"D","m":0,"s":3.1},{"c":"D","m":30,"s":1.7},{"c":"D","m":60,"s":0.5},{"c":"D","m":90,"s":0.2},{"c":"D","m":180,"s":0.2},{"c":"D","m":200,"s":1},{"c":"D","m":228,"s":2.9},{"c":"D","m":270,"s":5.7},{"c":"D","m":300,"s":9.5},{"c":"D","m":330,"s":13.8},{"c":"D","m":360,"s":17.6},{"c":"D","m":390,"s":22.9},{"c":"D","m":420,"s":26.2},{"c":"D","m":450,"s":28.6},{"c":"D","m":480,"s":29.8},{"c":"D","m":500,"s":29.5},{"c":"D","m":540,"s":26.7},{"c":"D","m":570,"s":23.8},{"c":"D","m":600,"s":21.9},{"c":"D","m":630,"s":21},{"c":"D","m":660,"s":21},{"c":"D","m":690,"s":21.4},{"c":"D","m":720,"s":23.3},{"c":"D","m":780,"s":26.2},{"c":"D","m":840,"s":27.4},{"c":"D","m":900,"s":28.1},{"c":"D","m":930,"s":28.1},{"c":"D","m":960,"s":27.1},{"c":"D","m":1020,"s":23.8},{"c":"D","m":1080,"s":19.5},{"c":"D","m":1140,"s":14.8},{"c":"D","m":1200,"s":10.5},{"c":"D","m":1260,"s":7.1},{"c":"D","m":1320,"s":4.8},{"c":"D","m":1380,"s":2.9},{"c":"D","m":1430,"s":2.1},
{"c":"E","m":0,"s":2.9},{"c":"E","m":30,"s":1.4},{"c":"E","m":60,"s":0.4},{"c":"E","m":90,"s":0.2},{"c":"E","m":210,"s":0.3},{"c":"E","m":240,"s":2.4},{"c":"E","m":270,"s":5.7},{"c":"E","m":300,"s":9.8},{"c":"E","m":330,"s":14.4},{"c":"E","m":360,"s":20},{"c":"E","m":390,"s":26.6},{"c":"E","m":420,"s":31.2},{"c":"E","m":450,"s":33.8},{"c":"E","m":480,"s":34.8},{"c":"E","m":500,"s":34.5},{"c":"E","m":540,"s":31.7},{"c":"E","m":570,"s":27.7},{"c":"E","m":600,"s":23.6},{"c":"E","m":630,"s":21},{"c":"E","m":660,"s":19.5},{"c":"E","m":690,"s":19},{"c":"E","m":720,"s":19},{"c":"E","m":750,"s":19.5},{"c":"E","m":780,"s":20.5},{"c":"E","m":840,"s":22.8},{"c":"E","m":900,"s":24.3},{"c":"E","m":930,"s":24.8},{"c":"E","m":960,"s":24.6},{"c":"E","m":1020,"s":22},{"c":"E","m":1080,"s":19.5},{"c":"E","m":1110,"s":17.4},{"c":"E","m":1140,"s":14.9},{"c":"E","m":1200,"s":10.8},{"c":"E","m":1260,"s":7.2},{"c":"E","m":1320,"s":4.7},{"c":"E","m":1380,"s":3.2},{"c":"E","m":1430,"s":2.8},
{"c":"F","m":0,"s":4.2},{"c":"F","m":30,"s":2.1},{"c":"F","m":60,"s":0.9},{"c":"F","m":90,"s":0.4},{"c":"F","m":120,"s":0.2},{"c":"F","m":180,"s":0.2},{"c":"F","m":210,"s":1.1},{"c":"F","m":240,"s":3.7},{"c":"F","m":270,"s":7.2},{"c":"F","m":300,"s":11.3},{"c":"F","m":330,"s":15.9},{"c":"F","m":360,"s":21.5},{"c":"F","m":390,"s":27.7},{"c":"F","m":420,"s":32.2},{"c":"F","m":450,"s":35.8},{"c":"F","m":480,"s":37.1},{"c":"F","m":500,"s":36.8},{"c":"F","m":540,"s":33.8},{"c":"F","m":570,"s":30.7},{"c":"F","m":600,"s":28.2},{"c":"F","m":630,"s":26.1},{"c":"F","m":660,"s":25.1},{"c":"F","m":690,"s":25.1},{"c":"F","m":720,"s":25.9},{"c":"F","m":780,"s":28.2},{"c":"F","m":840,"s":30.2},{"c":"F","m":900,"s":31.2},{"c":"F","m":930,"s":31.5},{"c":"F","m":960,"s":31},{"c":"F","m":1020,"s":28.7},{"c":"F","m":1080,"s":25.1},{"c":"F","m":1140,"s":20},{"c":"F","m":1200,"s":15.4},{"c":"F","m":1260,"s":11.3},{"c":"F","m":1320,"s":8.3},{"c":"F","m":1380,"s":5.7},{"c":"F","m":1430,"s":4.2},
{"c":"G","m":0,"s":2.7},{"c":"G","m":30,"s":1.1},{"c":"G","m":60,"s":0.4},{"c":"G","m":90,"s":0.2},{"c":"G","m":210,"s":0.2},{"c":"G","m":228,"s":1.1},{"c":"G","m":252,"s":3.7},{"c":"G","m":270,"s":6.7},{"c":"G","m":300,"s":11.3},{"c":"G","m":330,"s":16.4},{"c":"G","m":360,"s":22},{"c":"G","m":390,"s":27.7},{"c":"G","m":420,"s":32.2},{"c":"G","m":450,"s":35.8},{"c":"G","m":480,"s":37.1},{"c":"G","m":500,"s":36.8},{"c":"G","m":540,"s":32.8},{"c":"G","m":570,"s":28.7},{"c":"G","m":600,"s":25.6},{"c":"G","m":630,"s":24.3},{"c":"G","m":660,"s":24.1},{"c":"G","m":690,"s":24.6},{"c":"G","m":720,"s":26.1},{"c":"G","m":780,"s":29.7},{"c":"G","m":840,"s":32.2},{"c":"G","m":870,"s":33.8},{"c":"G","m":900,"s":34.3},{"c":"G","m":930,"s":34.3},{"c":"G","m":960,"s":33.3},{"c":"G","m":1020,"s":29.2},{"c":"G","m":1080,"s":23.6},{"c":"G","m":1140,"s":17.4},{"c":"G","m":1200,"s":11.8},{"c":"G","m":1260,"s":7.8},{"c":"G","m":1320,"s":5.2},{"c":"G","m":1380,"s":3.2},{"c":"G","m":1430,"s":2.1}
]},
"data":{"name":"d"},
"vconcat":[{
"title":{"text":"Time","orient":"bottom","anchor":"middle","fontSize":39,"font":"Liberation Sans","fontWeight":"normal","color":"#000000","offset":6},
"bounds":"flush",
"columns":4,
"spacing":{"row":18,"column":20},
"concat":[
{"width":428,"height":473,"transform":[{"filter":"datum.c=='A'"}],"resolve":{"axis":{"x":"independent","y":"independent"}},"layer":[
{"transform":[{"filter":"isValid(datum.v)"},{"window":[{"op":"lead","field":"v","as":"v2"},{"op":"lead","field":"m","as":"m2"},{"op":"mean","field":"v","as":"vm"},{"op":"mean","field":"m","as":"mm"}],"frame":[0,1],"sort":[{"field":"m"}]},{"filter":"isValid(datum.m2)"}],"mark":{"type":"rule","strokeWidth":2.6,"strokeCap":"butt"},"encoding":{"x":{"field":"m","type":"quantitative","scale":{"domain":[-72,1500],"nice":false,"zero":false},"axis":{"title":null,"values":[0,120,240,360,480,600,720,840,960,1080,1200,1320,1440],"labels":false,"ticks":false}},"x2":{"field":"mm"},"y":{"field":"v","type":"quantitative","scale":{"domain":[-2.69,60.93],"nice":false,"zero":false},"axis":{"title":null,"values":[0,5,10,15,20,25,30,35,40,45,50],"labelExpr":"datum.value%10==0 ? datum.label : ''","tickOpacity":{"condition":{"test":"datum.value%10==0","value":1},"value":0}}},"y2":{"field":"vm"},"color":{"field":"v","type":"quantitative","scale":{"domain":[0,21,33,50],"range":["#FF0000","#80FF00","#00FFFF","#8040FF"],"interpolate":"lab"},"legend":null}}},
{"transform":[{"filter":"isValid(datum.v)"},{"window":[{"op":"lead","field":"v","as":"v2"},{"op":"lead","field":"m","as":"m2"},{"op":"mean","field":"v","as":"vm"},{"op":"mean","field":"m","as":"mm"}],"frame":[0,1],"sort":[{"field":"m"}]},{"filter":"isValid(datum.m2)"}],"mark":{"type":"rule","strokeWidth":2.6,"strokeCap":"butt"},"encoding":{"x":{"field":"mm","type":"quantitative","axis":null},"x2":{"field":"m2"},"y":{"field":"vm","type":"quantitative","axis":null},"y2":{"field":"v2"},"color":{"field":"v2","type":"quantitative","legend":null}}},
{"transform":[{"filter":"isValid(datum.s)"}],"mark":{"type":"line","color":"#A6A6A6","strokeWidth":3.5,"interpolate":"monotone"},"encoding":{"x":{"field":"m","type":"quantitative","axis":null},"y":{"field":"s","type":"quantitative","axis":null}}},
{"transform":[{"filter":"isValid(datum.s)"},{"aggregate":[{"op":"count","as":"k"}],"groupby":["c"]},{"lookup":"c","from":{"data":{"name":"n"},"key":"c","fields":["p"]}}],"mark":{"type":"rect","fill":"#D9D9D9","stroke":"#333333","strokeWidth":2},"encoding":{"x":{"value":0},"x2":{"value":"width"},"y":{"datum":52.46,"axis":null},"y2":{"datum":60.93}}},
{"transform":[{"filter":"isValid(datum.s)"},{"aggregate":[{"op":"count","as":"k"}],"groupby":["c"]},{"lookup":"c","from":{"data":{"name":"n"},"key":"c","fields":["p"]}}],"mark":{"type":"text","font":"Liberation Sans","fontSize":28,"color":"#1A1A1A","align":"center","baseline":"middle","dx":-214},"encoding":{"x":{"value":"width"},"y":{"datum":56.7,"axis":null},"text":{"field":"p"}}}
]},
{"width":428,"height":473,"transform":[{"filter":"datum.c=='B'"}],"resolve":{"axis":{"x":"independent","y":"independent"}},"layer":[
{"transform":[{"filter":"isValid(datum.v)"},{"window":[{"op":"lead","field":"v","as":"v2"},{"op":"lead","field":"m","as":"m2"},{"op":"mean","field":"v","as":"vm"},{"op":"mean","field":"m","as":"mm"}],"frame":[0,1],"sort":[{"field":"m"}]},{"filter":"isValid(datum.m2)"}],"mark":{"type":"rule","strokeWidth":2.6,"strokeCap":"butt"},"encoding":{"x":{"field":"m","type":"quantitative","scale":{"domain":[-72,1500],"nice":false,"zero":false},"axis":{"title":null,"values":[0,120,240,360,480,600,720,840,960,1080,1200,1320,1440],"labels":false,"ticks":false}},"x2":{"field":"mm"},"y":{"field":"v","type":"quantitative","scale":{"domain":[-2.69,60.93],"nice":false,"zero":false},"axis":{"title":null,"values":[0,5,10,15,20,25,30,35,40,45,50],"labels":false,"ticks":false}},"y2":{"field":"vm"},"color":{"field":"v","type":"quantitative","scale":{"domain":[0,21,33,50],"range":["#FF0000","#80FF00","#00FFFF","#8040FF"],"interpolate":"lab"},"legend":null}}},
{"transform":[{"filter":"isValid(datum.v)"},{"window":[{"op":"lead","field":"v","as":"v2"},{"op":"lead","field":"m","as":"m2"},{"op":"mean","field":"v","as":"vm"},{"op":"mean","field":"m","as":"mm"}],"frame":[0,1],"sort":[{"field":"m"}]},{"filter":"isValid(datum.m2)"}],"mark":{"type":"rule","strokeWidth":2.6,"strokeCap":"butt"},"encoding":{"x":{"field":"mm","type":"quantitative","axis":null},"x2":{"field":"m2"},"y":{"field":"vm","type":"quantitative","axis":null},"y2":{"field":"v2"},"color":{"field":"v2","type":"quantitative","legend":null}}},
{"transform":[{"filter":"isValid(datum.s)"}],"mark":{"type":"line","color":"#A6A6A6","strokeWidth":3.5,"interpolate":"monotone"},"encoding":{"x":{"field":"m","type":"quantitative","axis":null},"y":{"field":"s","type":"quantitative","axis":null}}},
{"transform":[{"filter":"isValid(datum.s)"},{"aggregate":[{"op":"count","as":"k"}],"groupby":["c"]},{"lookup":"c","from":{"data":{"name":"n"},"key":"c","fields":["p"]}}],"mark":{"type":"rect","fill":"#D9D9D9","stroke":"#333333","strokeWidth":2},"encoding":{"x":{"value":0},"x2":{"value":"width"},"y":{"datum":52.46,"axis":null},"y2":{"datum":60.93}}},
{"transform":[{"filter":"isValid(datum.s)"},{"aggregate":[{"op":"count","as":"k"}],"groupby":["c"]},{"lookup":"c","from":{"data":{"name":"n"},"key":"c","fields":["p"]}}],"mark":{"type":"text","font":"Liberation Sans","fontSize":28,"color":"#1A1A1A","align":"center","baseline":"middle","dx":-214},"encoding":{"x":{"value":"width"},"y":{"datum":56.7,"axis":null},"text":{"field":"p"}}}
]},
{"width":428,"height":473,"transform":[{"filter":"datum.c=='C'"}],"resolve":{"axis":{"x":"independent","y":"independent"}},"layer":[
{"transform":[{"filter":"isValid(datum.v)"},{"window":[{"op":"lead","field":"v","as":"v2"},{"op":"lead","field":"m","as":"m2"},{"op":"mean","field":"v","as":"vm"},{"op":"mean","field":"m","as":"mm"}],"frame":[0,1],"sort":[{"field":"m"}]},{"filter":"isValid(datum.m2)"}],"mark":{"type":"rule","strokeWidth":2.6,"strokeCap":"butt"},"encoding":{"x":{"field":"m","type":"quantitative","scale":{"domain":[-72,1500],"nice":false,"zero":false},"axis":{"title":null,"values":[0,120,240,360,480,600,720,840,960,1080,1200,1320,1440],"labels":false,"ticks":false}},"x2":{"field":"mm"},"y":{"field":"v","type":"quantitative","scale":{"domain":[-2.69,60.93],"nice":false,"zero":false},"axis":{"title":null,"values":[0,5,10,15,20,25,30,35,40,45,50],"labels":false,"ticks":false}},"y2":{"field":"vm"},"color":{"field":"v","type":"quantitative","scale":{"domain":[0,21,33,50],"range":["#FF0000","#80FF00","#00FFFF","#8040FF"],"interpolate":"lab"},"legend":null}}},
{"transform":[{"filter":"isValid(datum.v)"},{"window":[{"op":"lead","field":"v","as":"v2"},{"op":"lead","field":"m","as":"m2"},{"op":"mean","field":"v","as":"vm"},{"op":"mean","field":"m","as":"mm"}],"frame":[0,1],"sort":[{"field":"m"}]},{"filter":"isValid(datum.m2)"}],"mark":{"type":"rule","strokeWidth":2.6,"strokeCap":"butt"},"encoding":{"x":{"field":"mm","type":"quantitative","axis":null},"x2":{"field":"m2"},"y":{"field":"vm","type":"quantitative","axis":null},"y2":{"field":"v2"},"color":{"field":"v2","type":"quantitative","legend":null}}},
{"transform":[{"filter":"isValid(datum.s)"}],"mark":{"type":"line","color":"#A6A6A6","strokeWidth":3.5,"interpolate":"monotone"},"encoding":{"x":{"field":"m","type":"quantitative","axis":null},"y":{"field":"s","type":"quantitative","axis":null}}},
{"transform":[{"filter":"isValid(datum.s)"},{"aggregate":[{"op":"count","as":"k"}],"groupby":["c"]},{"lookup":"c","from":{"data":{"name":"n"},"key":"c","fields":["p"]}}],"mark":{"type":"rect","fill":"#D9D9D9","stroke":"#333333","strokeWidth":2},"encoding":{"x":{"value":0},"x2":{"value":"width"},"y":{"datum":52.46,"axis":null},"y2":{"datum":60.93}}},
{"transform":[{"filter":"isValid(datum.s)"},{"aggregate":[{"op":"count","as":"k"}],"groupby":["c"]},{"lookup":"c","from":{"data":{"name":"n"},"key":"c","fields":["p"]}}],"mark":{"type":"text","font":"Liberation Sans","fontSize":28,"color":"#1A1A1A","align":"center","baseline":"middle","dx":-214},"encoding":{"x":{"value":"width"},"y":{"datum":56.7,"axis":null},"text":{"field":"p"}}}
]},
{"width":428,"height":473,"transform":[{"filter":"datum.c=='D'"}],"resolve":{"axis":{"x":"independent","y":"independent"}},"layer":[
{"transform":[{"filter":"isValid(datum.v)"},{"window":[{"op":"lead","field":"v","as":"v2"},{"op":"lead","field":"m","as":"m2"},{"op":"mean","field":"v","as":"vm"},{"op":"mean","field":"m","as":"mm"}],"frame":[0,1],"sort":[{"field":"m"}]},{"filter":"isValid(datum.m2)"}],"mark":{"type":"rule","strokeWidth":2.6,"strokeCap":"butt"},"encoding":{"x":{"field":"m","type":"quantitative","scale":{"domain":[-72,1500],"nice":false,"zero":false},"axis":{"title":null,"values":[0,120,240,360,480,600,720,840,960,1080,1200,1320,1440],"labelAngle":270,"labelOverlap":false,"labelExpr":"(datum.value/120)%2==1 ? (datum.value<600 ? '0'+(datum.value/60) : ''+(datum.value/60)) : ''","tickOpacity":{"condition":{"test":"(datum.value/120)%2==1","value":1},"value":0}}},"x2":{"field":"mm"},"y":{"field":"v","type":"quantitative","scale":{"domain":[-2.69,60.93],"nice":false,"zero":false},"axis":{"title":null,"values":[0,5,10,15,20,25,30,35,40,45,50],"labels":false,"ticks":false}},"y2":{"field":"vm"},"color":{"field":"v","type":"quantitative","scale":{"domain":[0,21,33,50],"range":["#FF0000","#80FF00","#00FFFF","#8040FF"],"interpolate":"lab"},"legend":null}}},
{"transform":[{"filter":"isValid(datum.v)"},{"window":[{"op":"lead","field":"v","as":"v2"},{"op":"lead","field":"m","as":"m2"},{"op":"mean","field":"v","as":"vm"},{"op":"mean","field":"m","as":"mm"}],"frame":[0,1],"sort":[{"field":"m"}]},{"filter":"isValid(datum.m2)"}],"mark":{"type":"rule","strokeWidth":2.6,"strokeCap":"butt"},"encoding":{"x":{"field":"mm","type":"quantitative","axis":null},"x2":{"field":"m2"},"y":{"field":"vm","type":"quantitative","axis":null},"y2":{"field":"v2"},"color":{"field":"v2","type":"quantitative","legend":null}}},
{"transform":[{"filter":"isValid(datum.s)"}],"mark":{"type":"line","color":"#A6A6A6","strokeWidth":3.5,"interpolate":"monotone"},"encoding":{"x":{"field":"m","type":"quantitative","axis":null},"y":{"field":"s","type":"quantitative","axis":null}}},
{"transform":[{"filter":"isValid(datum.s)"},{"aggregate":[{"op":"count","as":"k"}],"groupby":["c"]},{"lookup":"c","from":{"data":{"name":"n"},"key":"c","fields":["p"]}}],"mark":{"type":"rect","fill":"#D9D9D9","stroke":"#333333","strokeWidth":2},"encoding":{"x":{"value":0},"x2":{"value":"width"},"y":{"datum":52.46,"axis":null},"y2":{"datum":60.93}}},
{"transform":[{"filter":"isValid(datum.s)"},{"aggregate":[{"op":"count","as":"k"}],"groupby":["c"]},{"lookup":"c","from":{"data":{"name":"n"},"key":"c","fields":["p"]}}],"mark":{"type":"text","font":"Liberation Sans","fontSize":28,"color":"#1A1A1A","align":"center","baseline":"middle","dx":-214},"encoding":{"x":{"value":"width"},"y":{"datum":56.7,"axis":null},"text":{"field":"p"}}}
]},
{"width":428,"height":473,"transform":[{"filter":"datum.c=='E'"}],"resolve":{"axis":{"x":"independent","y":"independent"}},"layer":[
{"transform":[{"filter":"isValid(datum.v)"},{"window":[{"op":"lead","field":"v","as":"v2"},{"op":"lead","field":"m","as":"m2"},{"op":"mean","field":"v","as":"vm"},{"op":"mean","field":"m","as":"mm"}],"frame":[0,1],"sort":[{"field":"m"}]},{"filter":"isValid(datum.m2)"}],"mark":{"type":"rule","strokeWidth":2.6,"strokeCap":"butt"},"encoding":{"x":{"field":"m","type":"quantitative","scale":{"domain":[-72,1500],"nice":false,"zero":false},"axis":{"title":null,"values":[0,120,240,360,480,600,720,840,960,1080,1200,1320,1440],"labelAngle":270,"labelOverlap":false,"labelExpr":"(datum.value/120)%2==1 ? (datum.value<600 ? '0'+(datum.value/60) : ''+(datum.value/60)) : ''","tickOpacity":{"condition":{"test":"(datum.value/120)%2==1","value":1},"value":0}}},"x2":{"field":"mm"},"y":{"field":"v","type":"quantitative","scale":{"domain":[-2.69,60.93],"nice":false,"zero":false},"axis":{"title":null,"values":[0,5,10,15,20,25,30,35,40,45,50],"labelExpr":"datum.value%10==0 ? datum.label : ''","tickOpacity":{"condition":{"test":"datum.value%10==0","value":1},"value":0}}},"y2":{"field":"vm"},"color":{"field":"v","type":"quantitative","scale":{"domain":[0,21,33,50],"range":["#FF0000","#80FF00","#00FFFF","#8040FF"],"interpolate":"lab"},"legend":null}}},
{"transform":[{"filter":"isValid(datum.v)"},{"window":[{"op":"lead","field":"v","as":"v2"},{"op":"lead","field":"m","as":"m2"},{"op":"mean","field":"v","as":"vm"},{"op":"mean","field":"m","as":"mm"}],"frame":[0,1],"sort":[{"field":"m"}]},{"filter":"isValid(datum.m2)"}],"mark":{"type":"rule","strokeWidth":2.6,"strokeCap":"butt"},"encoding":{"x":{"field":"mm","type":"quantitative","axis":null},"x2":{"field":"m2"},"y":{"field":"vm","type":"quantitative","axis":null},"y2":{"field":"v2"},"color":{"field":"v2","type":"quantitative","legend":null}}},
{"transform":[{"filter":"isValid(datum.s)"}],"mark":{"type":"line","color":"#A6A6A6","strokeWidth":3.5,"interpolate":"monotone"},"encoding":{"x":{"field":"m","type":"quantitative","axis":null},"y":{"field":"s","type":"quantitative","axis":null}}},
{"transform":[{"filter":"isValid(datum.s)"},{"aggregate":[{"op":"count","as":"k"}],"groupby":["c"]},{"lookup":"c","from":{"data":{"name":"n"},"key":"c","fields":["p"]}}],"mark":{"type":"rect","fill":"#D9D9D9","stroke":"#333333","strokeWidth":2},"encoding":{"x":{"value":0},"x2":{"value":"width"},"y":{"datum":52.46,"axis":null},"y2":{"datum":60.93}}},
{"transform":[{"filter":"isValid(datum.s)"},{"aggregate":[{"op":"count","as":"k"}],"groupby":["c"]},{"lookup":"c","from":{"data":{"name":"n"},"key":"c","fields":["p"]}}],"mark":{"type":"text","font":"Liberation Sans","fontSize":28,"color":"#1A1A1A","align":"center","baseline":"middle","dx":-214},"encoding":{"x":{"value":"width"},"y":{"datum":56.7,"axis":null},"text":{"field":"p"}}}
]},
{"width":428,"height":473,"transform":[{"filter":"datum.c=='F'"}],"resolve":{"axis":{"x":"independent","y":"independent"}},"layer":[
{"transform":[{"filter":"isValid(datum.v)"},{"window":[{"op":"lead","field":"v","as":"v2"},{"op":"lead","field":"m","as":"m2"},{"op":"mean","field":"v","as":"vm"},{"op":"mean","field":"m","as":"mm"}],"frame":[0,1],"sort":[{"field":"m"}]},{"filter":"isValid(datum.m2)"}],"mark":{"type":"rule","strokeWidth":2.6,"strokeCap":"butt"},"encoding":{"x":{"field":"m","type":"quantitative","scale":{"domain":[-72,1500],"nice":false,"zero":false},"axis":{"title":null,"values":[0,120,240,360,480,600,720,840,960,1080,1200,1320,1440],"labelAngle":270,"labelOverlap":false,"labelExpr":"(datum.value/120)%2==1 ? (datum.value<600 ? '0'+(datum.value/60) : ''+(datum.value/60)) : ''","tickOpacity":{"condition":{"test":"(datum.value/120)%2==1","value":1},"value":0}}},"x2":{"field":"mm"},"y":{"field":"v","type":"quantitative","scale":{"domain":[-2.69,60.93],"nice":false,"zero":false},"axis":{"title":null,"values":[0,5,10,15,20,25,30,35,40,45,50],"labels":false,"ticks":false}},"y2":{"field":"vm"},"color":{"field":"v","type":"quantitative","scale":{"domain":[0,21,33,50],"range":["#FF0000","#80FF00","#00FFFF","#8040FF"],"interpolate":"lab"},"legend":null}}},
{"transform":[{"filter":"isValid(datum.v)"},{"window":[{"op":"lead","field":"v","as":"v2"},{"op":"lead","field":"m","as":"m2"},{"op":"mean","field":"v","as":"vm"},{"op":"mean","field":"m","as":"mm"}],"frame":[0,1],"sort":[{"field":"m"}]},{"filter":"isValid(datum.m2)"}],"mark":{"type":"rule","strokeWidth":2.6,"strokeCap":"butt"},"encoding":{"x":{"field":"mm","type":"quantitative","axis":null},"x2":{"field":"m2"},"y":{"field":"vm","type":"quantitative","axis":null},"y2":{"field":"v2"},"color":{"field":"v2","type":"quantitative","legend":null}}},
{"transform":[{"filter":"isValid(datum.s)"}],"mark":{"type":"line","color":"#A6A6A6","strokeWidth":3.5,"interpolate":"monotone"},"encoding":{"x":{"field":"m","type":"quantitative","axis":null},"y":{"field":"s","type":"quantitative","axis":null}}},
{"transform":[{"filter":"isValid(datum.s)"},{"aggregate":[{"op":"count","as":"k"}],"groupby":["c"]},{"lookup":"c","from":{"data":{"name":"n"},"key":"c","fields":["p"]}}],"mark":{"type":"rect","fill":"#D9D9D9","stroke":"#333333","strokeWidth":2},"encoding":{"x":{"value":0},"x2":{"value":"width"},"y":{"datum":52.46,"axis":null},"y2":{"datum":60.93}}},
{"transform":[{"filter":"isValid(datum.s)"},{"aggregate":[{"op":"count","as":"k"}],"groupby":["c"]},{"lookup":"c","from":{"data":{"name":"n"},"key":"c","fields":["p"]}}],"mark":{"type":"text","font":"Liberation Sans","fontSize":28,"color":"#1A1A1A","align":"center","baseline":"middle","dx":-214},"encoding":{"x":{"value":"width"},"y":{"datum":56.7,"axis":null},"text":{"field":"p"}}}
]},
{"width":428,"height":473,"transform":[{"filter":"datum.c=='G'"}],"resolve":{"axis":{"x":"independent","y":"independent"}},"layer":[
{"transform":[{"filter":"isValid(datum.v)"},{"window":[{"op":"lead","field":"v","as":"v2"},{"op":"lead","field":"m","as":"m2"},{"op":"mean","field":"v","as":"vm"},{"op":"mean","field":"m","as":"mm"}],"frame":[0,1],"sort":[{"field":"m"}]},{"filter":"isValid(datum.m2)"}],"mark":{"type":"rule","strokeWidth":2.6,"strokeCap":"butt"},"encoding":{"x":{"field":"m","type":"quantitative","scale":{"domain":[-72,1500],"nice":false,"zero":false},"axis":{"title":null,"values":[0,120,240,360,480,600,720,840,960,1080,1200,1320,1440],"labelAngle":270,"labelOverlap":false,"labelExpr":"(datum.value/120)%2==1 ? (datum.value<600 ? '0'+(datum.value/60) : ''+(datum.value/60)) : ''","tickOpacity":{"condition":{"test":"(datum.value/120)%2==1","value":1},"value":0}}},"x2":{"field":"mm"},"y":{"field":"v","type":"quantitative","scale":{"domain":[-2.69,60.93],"nice":false,"zero":false},"axis":{"title":null,"values":[0,5,10,15,20,25,30,35,40,45,50],"labels":false,"ticks":false}},"y2":{"field":"vm"},"color":{"field":"v","type":"quantitative","scale":{"domain":[0,21,33,50],"range":["#FF0000","#80FF00","#00FFFF","#8040FF"],"interpolate":"lab"},"legend":null}}},
{"transform":[{"filter":"isValid(datum.v)"},{"window":[{"op":"lead","field":"v","as":"v2"},{"op":"lead","field":"m","as":"m2"},{"op":"mean","field":"v","as":"vm"},{"op":"mean","field":"m","as":"mm"}],"frame":[0,1],"sort":[{"field":"m"}]},{"filter":"isValid(datum.m2)"}],"mark":{"type":"rule","strokeWidth":2.6,"strokeCap":"butt"},"encoding":{"x":{"field":"mm","type":"quantitative","axis":null},"x2":{"field":"m2"},"y":{"field":"vm","type":"quantitative","axis":null},"y2":{"field":"v2"},"color":{"field":"v2","type":"quantitative","legend":null}}},
{"transform":[{"filter":"isValid(datum.s)"}],"mark":{"type":"line","color":"#A6A6A6","strokeWidth":3.5,"interpolate":"monotone"},"encoding":{"x":{"field":"m","type":"quantitative","axis":null},"y":{"field":"s","type":"quantitative","axis":null}}},
{"transform":[{"filter":"isValid(datum.s)"},{"aggregate":[{"op":"count","as":"k"}],"groupby":["c"]},{"lookup":"c","from":{"data":{"name":"n"},"key":"c","fields":["p"]}}],"mark":{"type":"rect","fill":"#D9D9D9","stroke":"#333333","strokeWidth":2},"encoding":{"x":{"value":0},"x2":{"value":"width"},"y":{"datum":52.46,"axis":null},"y2":{"datum":60.93}}},
{"transform":[{"filter":"isValid(datum.s)"},{"aggregate":[{"op":"count","as":"k"}],"groupby":["c"]},{"lookup":"c","from":{"data":{"name":"n"},"key":"c","fields":["p"]}}],"mark":{"type":"text","font":"Liberation Sans","fontSize":28,"color":"#1A1A1A","align":"center","baseline":"middle","dx":-214},"encoding":{"x":{"value":"width"},"y":{"datum":56.7,"axis":null},"text":{"field":"p"}}}
]}
]}],
"config":{
"view":{"stroke":"#333333","strokeWidth":2},
"axis":{"domain":false,"grid":true,"labelFont":"Liberation Sans","labelFontSize":25,"labelColor":"#4D4D4D","tickColor":"#333333","tickWidth":2,"gridColor":"#EBEBEB","gridWidth":1.6},
"axisX":{"tickSize":8,"labelPadding":9},
"axisY":{"tickSize":9,"labelPadding":9}
}
}
